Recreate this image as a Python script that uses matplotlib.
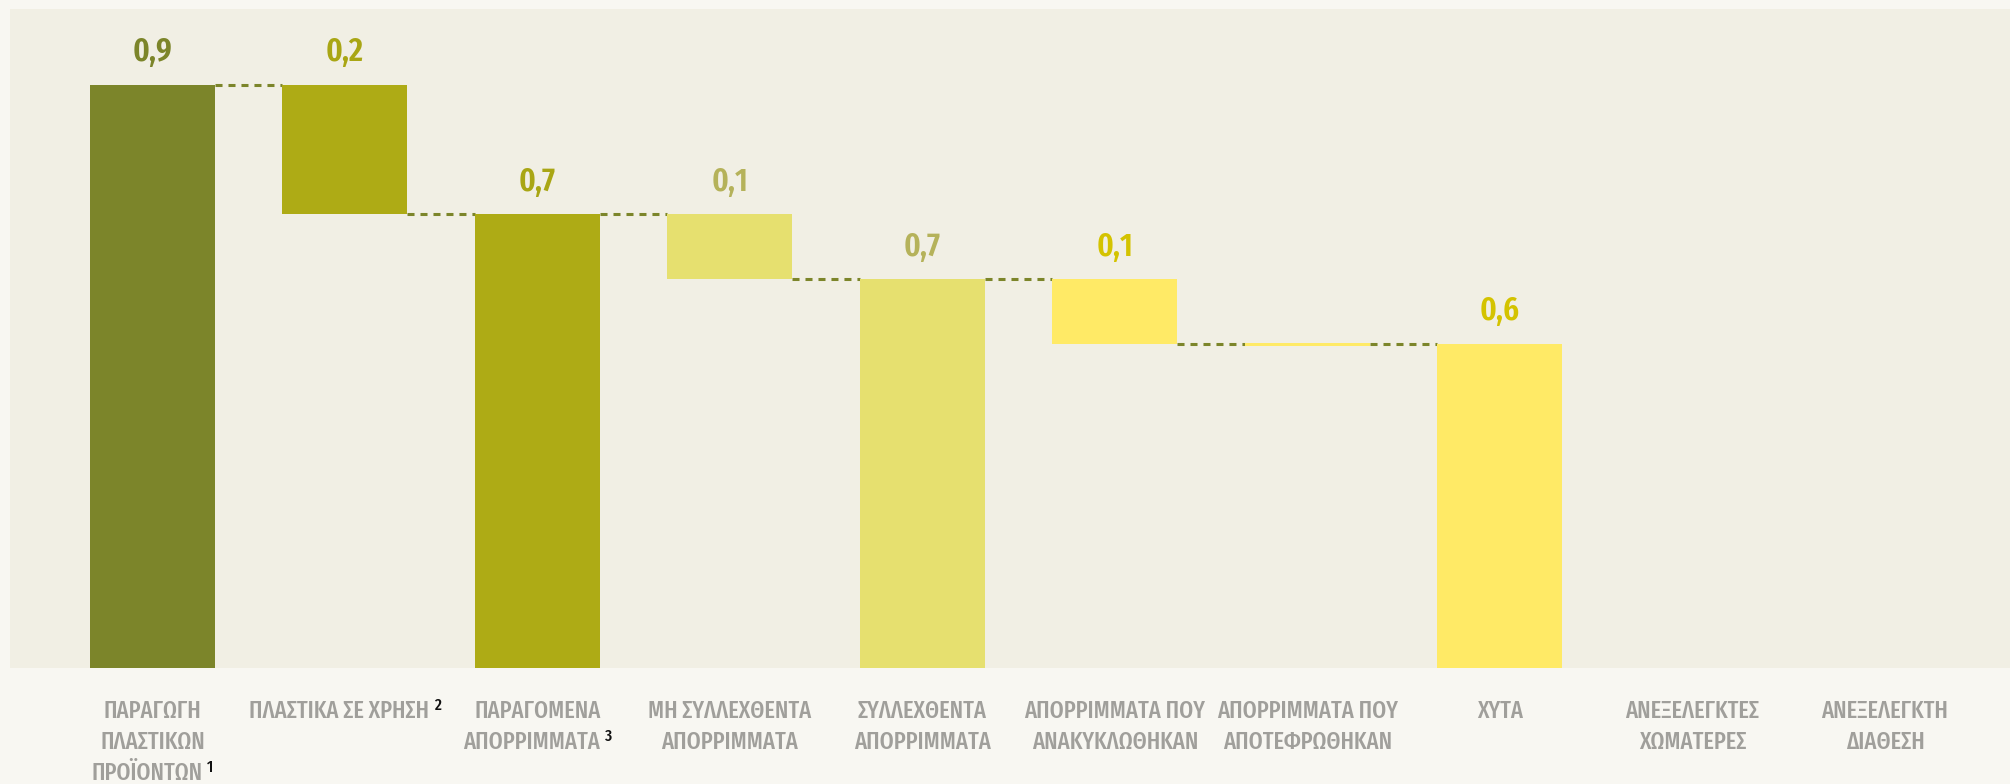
import matplotlib
matplotlib.use("Agg")
import matplotlib.pyplot as plt
from matplotlib import font_manager
from matplotlib.transforms import blended_transform_factory, offset_copy

# ---------------- data ----------------
categories = [
    ["ΠΑΡΑΓΩΓΗ", "ΠΛΑΣΤΙΚΩΝ", "ΠΡΟΪΟΝΤΩΝ"],
    ["ΠΛΑΣΤΙΚΑ ΣΕ ΧΡΗΣΗ"],
    ["ΠΑΡΑΓΟΜΕΝΑ", "ΑΠΟΡΡΙΜΜΑΤΑ"],
    ["ΜΗ ΣΥΛΛΕΧΘΕΝΤΑ", "ΑΠΟΡΡΙΜΜΑΤΑ"],
    ["ΣΥΛΛΕΧΘΕΝΤΑ", "ΑΠΟΡΡΙΜΜΑΤΑ"],
    ["ΑΠΟΡΡΙΜΜΑΤΑ ΠΟΥ", "ΑΝΑΚΥΚΛΩΘΗΚΑΝ"],
    ["ΑΠΟΡΡΙΜΜΑΤΑ ΠΟΥ", "ΑΠΟΤΕΦΡΩΘΗΚΑΝ"],
    ["ΧΥΤΑ"],
    ["ΑΝΕΞΕΛΕΓΚΤΕΣ", "ΧΩΜΑΤΕΡΕΣ"],
    ["ΑΝΕΞΕΛΕΓΚΤΗ", "ΔΙΑΘΕΣΗ"],
]
footnotes = ["1", "2", "3", "", "", "", "", "", "", ""]
# bar bottoms and tops (million tonnes, as drawn)
bar_bottom = [0.0, 0.70, 0.0, 0.60, 0.0, 0.50, 0.497, 0.0, None, None]
bar_top    = [0.90, 0.90, 0.70, 0.70, 0.60, 0.60, 0.502, 0.50, None, None]
value_labels = ["0,9", "0,2", "0,7", "0,1", "0,7", "0,1", "", "0,6", "", ""]
# connector levels between bar i and bar i+1
connector_levels = [0.90, 0.70, 0.70, 0.60, 0.60, 0.50, 0.50]

bar_colors = ["#7C852A", "#AEAB15", "#AEAB15", "#E6E06F", "#E6E06F",
              "#FFEA66", "#FFEA66", "#FFEA66", "#FFEA66", "#FFEA66"]
label_colors = ["#7C852A", "#A9A614", "#A9A614", "#B5B25A", "#B5B25A",
                "#D4C300", "#D4C300", "#D4C300", "#D4C300", "#D4C300"]

# ---------------- fonts ----------------
avail = {f.name for f in font_manager.fontManager.ttflist}
font = "DejaVu Sans"
for cand in ["Fira Sans Extra Condensed", "Sofia Sans Extra Condensed", "Roboto Condensed",
             "Fira Sans Condensed", "Open Sans Condensed", "Roboto"]:
    if cand in avail:
        font = cand
        break
plt.rcParams["font.family"] = [font, "DejaVu Sans"]

W, H, DPI = 2010, 784, 100
fig = plt.figure(figsize=(W / DPI, H / DPI), dpi=DPI)
fig.patch.set_facecolor("#F8F7F2")

ax_left, ax_right, ax_top, ax_bottom = 10, 2010, 9, 668
ax = fig.add_axes([ax_left / W, 1 - ax_bottom / H, (ax_right - ax_left) / W, (ax_bottom - ax_top) / H])
ax.set_facecolor("#F1EFE4")
for s in ax.spines.values():
    s.set_visible(False)
ax.set_xticks([])
ax.set_yticks([])

n = len(categories)
x = list(range(n))
width = 0.65
ax.set_xlim(-0.74, 9.65)
ax.set_ylim(0, 1.017)

for i in range(n):
    if bar_top[i] is None:
        continue
    ax.bar(x[i], bar_top[i] - bar_bottom[i], bottom=bar_bottom[i], width=width,
           color=bar_colors[i], linewidth=0, zorder=2)
    if value_labels[i]:
        ax.annotate(value_labels[i], (x[i], bar_top[i]), xytext=(0, 17), textcoords="offset points",
                    ha="center", va="baseline", fontsize=24, fontweight="semibold",
                    color=label_colors[i], zorder=3)

for i, lvl in enumerate(connector_levels):
    ax.plot([x[i] + width / 2, x[i + 1] - width / 2], [lvl, lvl], color="#7C852A",
            linewidth=2.2, linestyle=(0, (2.3, 1.95)), solid_capstyle="butt",
            dash_capstyle="butt", zorder=1)

# ---------------- category labels ----------------
fig.canvas.draw()
renderer = fig.canvas.get_renderer()
trans = blended_transform_factory(ax.transData, fig.transFigure)
first_baseline = 718  # px from top
line_step = 31
for i, lines in enumerate(categories):
    for j, line in enumerate(lines):
        y = 1 - (first_baseline + j * line_step) / H
        sup = footnotes[i] if j == len(lines) - 1 else ""
        t = ax.text(x[i], y, line, transform=trans, ha="center", va="baseline",
                    fontsize=17.5, fontweight="medium", color="#A09F9B", clip_on=False)
        if sup:
            s = ax.text(x[i], y, sup, transform=trans, ha="left", va="baseline",
                        fontsize=12, fontweight="medium", color="#111111", clip_on=False)
            bb_t = t.get_window_extent(renderer)
            bb_s = s.get_window_extent(renderer)
            gap = 5
            total = bb_t.width + gap + bb_s.width
            shift = (total - bb_t.width) / 2.0
            # re-centre so that line + footnote is centred on the category
            t.set_transform(offset_copy(trans, fig=fig, x=-shift, y=0, units="dots"))
            s.set_transform(offset_copy(trans, fig=fig, x=-shift + bb_t.width / 2 + gap,
                                        y=8, units="dots"))

fig.savefig("out.png", dpi=DPI, facecolor=fig.get_facecolor())
